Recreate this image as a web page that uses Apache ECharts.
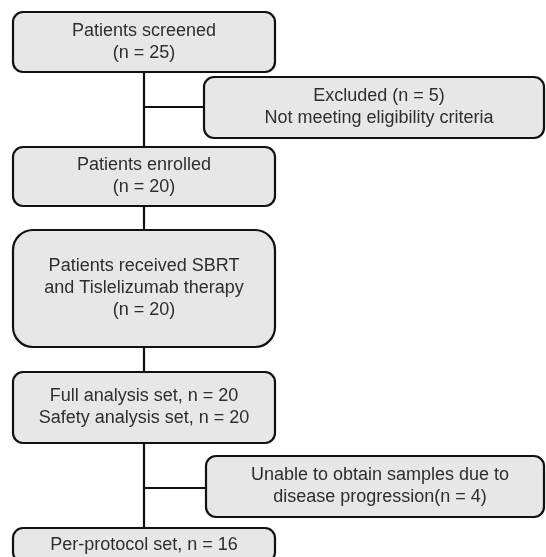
<!DOCTYPE html>
<html lang="en">
<head>
    <meta charset="UTF-8">
    <title>Flow chart</title>
    <style>
        html, body { margin: 0; padding: 0; background: #fff; }
        #main { width: 546px; height: 557px; }
    </style>
</head>
<body>
<div id="main"></div>
<script src="https://cdn.jsdelivr.net/npm/echarts@6/dist/echarts.min.js"></script>
<script>
    // box texts (top to bottom)
    const boxTexts = [
        'Patients screened\n(n = 25)',
        'Excluded (n = 5)\nNot meeting eligibility criteria',
        'Patients enrolled\n(n = 20)',
        'Patients received SBRT\nand Tislelizumab therapy\n(n = 20)',
        'Full analysis set, n = 20\nSafety analysis set, n = 20',
        'Unable to obtain samples due to\ndisease progression(n = 4)',
        'Per-protocol set, n = 16'
    ];

    // layout: [x1, y1, x2, y2, radius, textOffsetX]
    const boxLayout = [
        [13, 12, 275, 72, 10, 0],
        [204, 77, 544, 138, 10, 5],
        [13, 147, 275, 206, 10, 0],
        [13, 230, 275, 347, 20, 0],
        [13, 372, 275, 443, 10, 0],
        [206, 456, 544, 517, 10, 5],
        [13, 528, 275, 562, 10, 0]
    ];

    // connectors: [x1, y1, x2, y2]
    const connectors = [
        [144, 72, 144, 147],
        [144, 107, 204, 107],
        [144, 206, 144, 230],
        [144, 347, 144, 372],
        [144, 443, 144, 528],
        [144, 488, 206, 488]
    ];

    const dom = document.getElementById('main');
    const myChart = echarts.init(dom, null, {renderer: 'canvas'});

    const boxData = boxLayout.map((b, i) => b.concat([i]));

    const option = {
        animation: false,
        grid: {left: 0, right: 0, top: 0, bottom: 0},
        xAxis: {type: 'value', min: 0, max: 546, show: false},
        yAxis: {type: 'value', min: 0, max: 557, inverse: true, show: false},
        series: [
            {
                type: 'custom',
                data: connectors,
                renderItem: function (params, api) {
                    const a = api.coord([api.value(0), api.value(1)]);
                    const b = api.coord([api.value(2), api.value(3)]);
                    return {
                        type: 'line',
                        shape: {x1: a[0], y1: a[1], x2: b[0], y2: b[1]},
                        style: {stroke: '#111', lineWidth: 2.2}
                    };
                }
            },
            {
                type: 'custom',
                data: boxData,
                renderItem: function (params, api) {
                    const p1 = api.coord([api.value(0), api.value(1)]);
                    const p2 = api.coord([api.value(2), api.value(3)]);
                    const idx = api.value(6);
                    return {
                        type: 'group',
                        children: [
                            {
                                type: 'rect',
                                shape: {
                                    x: p1[0], y: p1[1],
                                    width: p2[0] - p1[0], height: p2[1] - p1[1],
                                    r: api.value(4)
                                },
                                style: {fill: '#e7e7e7', stroke: '#111', lineWidth: 2.2}
                            },
                            {
                                type: 'text',
                                style: {
                                    text: boxTexts[idx],
                                    x: (p1[0] + p2[0]) / 2 + api.value(5),
                                    y: (p1[1] + p2[1]) / 2,
                                    align: 'center',
                                    verticalAlign: 'middle',
                                    font: '18px "Liberation Sans", Arial, sans-serif',
                                    lineHeight: 22,
                                    fill: '#2e2e2e'
                                }
                            }
                        ]
                    };
                }
            }
        ]
    };

    myChart.setOption(option);
</script>
</body>
</html>
